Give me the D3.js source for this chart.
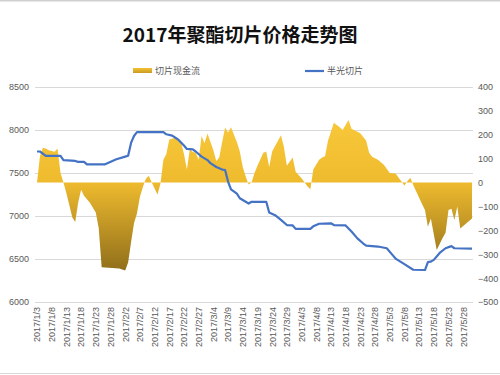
<!DOCTYPE html>
<html><head><meta charset="utf-8">
<script src="https://cdn.jsdelivr.net/npm/d3@7/dist/d3.min.js"></script>
<style>body{margin:0;background:#fff}svg{display:block}</style>
</head><body>
<svg id="c" width="500" height="375"></svg>
<script>
const title = "2017年聚酯切片价格走势图";
const seriesNames = ["切片现金流", "半光切片"];
const leftTicks = [6000, 6500, 7000, 7500, 8000, 8500];
const rightTicks = [-500, -400, -300, -200, -100, 0, 100, 200, 300, 400];
const xTickDates = ["2017/1/3","2017/1/8","2017/1/13","2017/1/18","2017/1/23","2017/1/28","2017/2/2","2017/2/7","2017/2/12","2017/2/17","2017/2/22","2017/2/27","2017/3/4","2017/3/9","2017/3/14","2017/3/19","2017/3/24","2017/3/29","2017/4/3","2017/4/8","2017/4/13","2017/4/18","2017/4/23","2017/4/28","2017/5/3","2017/5/8","2017/5/13","2017/5/18","2017/5/23","2017/5/28"];

// 半光切片 (left axis)
const priceDates = ["2017/1/3","2017/1/4","2017/1/6","2017/1/11","2017/1/12","2017/1/16","2017/1/17","2017/1/19","2017/1/20","2017/1/26","2017/1/30","2017/2/2","2017/2/3","2017/2/4","2017/2/5","2017/2/6","2017/2/15","2017/2/16","2017/2/18","2017/2/20","2017/2/22","2017/2/23","2017/2/25","2017/2/26","2017/2/28","2017/3/2","2017/3/3","2017/3/5","2017/3/7","2017/3/8","2017/3/9","2017/3/10","2017/3/12","2017/3/13","2017/3/15","2017/3/16","2017/3/17","2017/3/22","2017/3/23","2017/3/25","2017/3/27","2017/3/29","2017/3/31","2017/4/1","2017/4/6","2017/4/7","2017/4/9","2017/4/13","2017/4/14","2017/4/18","2017/4/20","2017/4/22","2017/4/24","2017/4/25","2017/4/29","2017/5/2","2017/5/4","2017/5/5","2017/5/8","2017/5/11","2017/5/15","2017/5/16","2017/5/17","2017/5/18","2017/5/20","2017/5/22","2017/5/24","2017/5/25","2017/5/31"];
const priceValues = [7750,7750,7700,7700,7650,7640,7630,7630,7600,7600,7660,7690,7700,7850,7930,7975,7975,7950,7935,7890,7820,7780,7775,7750,7690,7650,7615,7570,7540,7535,7400,7310,7260,7206,7165,7145,7165,7165,7040,7010,6955,6895,6890,6850,6850,6880,6910,6915,6895,6890,6820,6740,6680,6655,6645,6625,6545,6505,6440,6375,6372,6465,6470,6490,6570,6625,6650,6625,6620];

// 切片现金流 (right axis)
const flowDates = ["2017/1/3","2017/1/4","2017/1/5","2017/1/6","2017/1/7","2017/1/9","2017/1/10","2017/1/11","2017/1/12","2017/1/13","2017/1/15","2017/1/16","2017/1/17","2017/1/18","2017/1/19","2017/1/21","2017/1/23","2017/1/24","2017/1/25","2017/1/31","2017/2/2","2017/2/3","2017/2/4","2017/2/5","2017/2/6","2017/2/7","2017/2/8","2017/2/9","2017/2/10","2017/2/12","2017/2/13","2017/2/14","2017/2/15","2017/2/16","2017/2/17","2017/2/19","2017/2/21","2017/2/22","2017/2/23","2017/2/24","2017/2/25","2017/2/26","2017/2/27","2017/2/28","2017/3/1","2017/3/2","2017/3/4","2017/3/5","2017/3/6","2017/3/7","2017/3/8","2017/3/9","2017/3/10","2017/3/12","2017/3/13","2017/3/14","2017/3/15","2017/3/16","2017/3/17","2017/3/18","2017/3/19","2017/3/21","2017/3/22","2017/3/23","2017/3/24","2017/3/27","2017/3/28","2017/3/29","2017/3/31","2017/4/1","2017/4/3","2017/4/5","2017/4/6","2017/4/7","2017/4/9","2017/4/10","2017/4/11","2017/4/12","2017/4/14","2017/4/16","2017/4/17","2017/4/19","2017/4/20","2017/4/23","2017/4/25","2017/4/26","2017/4/27","2017/4/29","2017/5/1","2017/5/3","2017/5/5","2017/5/8","2017/5/9","2017/5/10","2017/5/11","2017/5/14","2017/5/15","2017/5/16","2017/5/17","2017/5/19","2017/5/21","2017/5/22","2017/5/23","2017/5/24","2017/5/25","2017/5/26","2017/5/27","2017/5/31"];
const flowValues = [0,110,146,143,135,129,143,40,0,-45,-145,-165,-85,-30,-55,-85,-125,-190,-355,-360,-368,-335,-250,-170,-130,-60,-20,15,28,-25,-50,-5,95,120,180,188,170,120,55,140,128,125,95,195,165,205,135,90,105,170,230,210,232,170,130,65,25,-8,0,40,70,125,130,65,130,198,150,70,105,45,18,-15,-28,55,95,105,110,175,250,232,220,262,225,206,175,125,108,95,75,40,38,-12,5,20,-10,-90,-115,-185,-150,-282,-232,-210,-115,-110,-157,-100,-192,-150];

const parse = d3.timeParse("%Y/%m/%d");
const svg = d3.select("#c");
const W = 500, H = 375;
const x0 = 37, x1 = 472, yTop = 87, yBot = 302;

const x = d3.scaleTime().domain([parse("2017/1/3"), parse("2017/5/31")]).range([x0, x1]);
const yL = d3.scaleLinear().domain([6000, 8500]).range([yBot, yTop]);
const yR = d3.scaleLinear().domain([-500, 400]).range([yBot, yTop]);

const gray = "#595959";
const font = "'Liberation Sans', Arial, sans-serif";

// frame lines
svg.append("line").attr("x1",0).attr("x2",W).attr("y1",0.5).attr("y2",0.5).attr("stroke","#d0d0d0").attr("stroke-width",2);
svg.append("line").attr("x1",0).attr("x2",W).attr("y1",373.5).attr("y2",373.5).attr("stroke","#d9d9d9").attr("stroke-width",1);

// title
svg.append("text").attr("x",240).attr("y",42).attr("text-anchor","middle")
  .attr("font-family","'Noto Sans CJK SC', sans-serif").attr("font-weight","bold")
  .attr("font-size",19).attr("fill","#111").text(title);

// gridlines (left axis)
const gLeft = svg.append("g").attr("transform",`translate(${x0-2},0)`)
  .call(d3.axisLeft(yL).tickValues(leftTicks).tickSize(0).tickPadding(6).tickFormat(d3.format("d")));
gLeft.select(".domain").remove();
gLeft.selectAll("text").attr("font-family",font).attr("font-size",9).attr("fill",gray);
svg.append("g").selectAll("line").data(leftTicks).join("line")
  .attr("x1",x0-2).attr("x2",x1+1).attr("y1",d=>yL(d)+0.5).attr("y2",d=>yL(d)+0.5)
  .attr("stroke","#d9d9d9").attr("stroke-width",1);

// right axis
const gRight = svg.append("g").attr("transform",`translate(${x1+1},0)`)
  .call(d3.axisRight(yR).tickValues(rightTicks).tickSize(0).tickPadding(5).tickFormat(d3.format("d")));
gRight.select(".domain").remove();
gRight.selectAll("text").attr("font-family",font).attr("font-size",9).attr("fill",gray);

// gradient for area
const defs = svg.append("defs");
const grad = defs.append("linearGradient").attr("id","gold").attr("gradientUnits","userSpaceOnUse")
  .attr("x1",0).attr("x2",0).attr("y1",120).attr("y2",275);
grad.append("stop").attr("offset","0%").attr("stop-color","#f8c83a");
grad.append("stop").attr("offset","40%").attr("stop-color","#efbb2e");
grad.append("stop").attr("offset","100%").attr("stop-color","#8c6b1a");

const flow = flowDates.map((d,i)=>({d:parse(d), v:flowValues[i]}));
const area = d3.area().x(p=>x(p.d)).y0(yR(0)).y1(p=>yR(p.v));
svg.append("path").datum(flow).attr("d",area).attr("fill","url(#gold)");

const price = priceDates.map((d,i)=>({d:parse(d), v:priceValues[i]}));
const line = d3.line().x(p=>x(p.d)).y(p=>yL(p.v));
svg.append("path").datum(price).attr("d",line).attr("fill","none")
  .attr("stroke","#4472c4").attr("stroke-width",2.2).attr("stroke-linejoin","round");

// x axis
const gx = svg.append("g").attr("transform",`translate(0,${yBot})`)
  .call(d3.axisBottom(x).tickValues(xTickDates.map(parse)).tickSize(0).tickFormat(d3.timeFormat("%Y/%-m/%-d")));
gx.select(".domain").attr("d",`M${x0-2},0.5H${x1+1}`).attr("stroke","#d9d9d9");
gx.selectAll("text").attr("font-family",font).attr("font-size",9).attr("fill",gray)
  .attr("transform","rotate(-90)").attr("text-anchor","end").attr("x",-5).attr("y",0).attr("dy","0.32em");

// legend
const lg = svg.append("g").attr("font-family","'Noto Sans CJK SC', sans-serif").attr("font-size",9).attr("fill",gray);
const lgGrad = defs.append("linearGradient").attr("id","lgold").attr("x1",0).attr("x2",0).attr("y1",0).attr("y2",1);
lgGrad.append("stop").attr("offset","0%").attr("stop-color","#f5c232");
lgGrad.append("stop").attr("offset","100%").attr("stop-color","#c89a22");
lg.append("rect").attr("x",133).attr("y",68).attr("width",19).attr("height",5).attr("fill","url(#lgold)");
lg.append("text").attr("x",155).attr("y",71).attr("dy","0.35em").text(seriesNames[0]);
lg.append("line").attr("x1",305).attr("x2",324).attr("y1",71).attr("y2",71).attr("stroke","#4472c4").attr("stroke-width",2.2);
lg.append("text").attr("x",327).attr("y",71).attr("dy","0.35em").text(seriesNames[1]);
</script>
</body></html>
